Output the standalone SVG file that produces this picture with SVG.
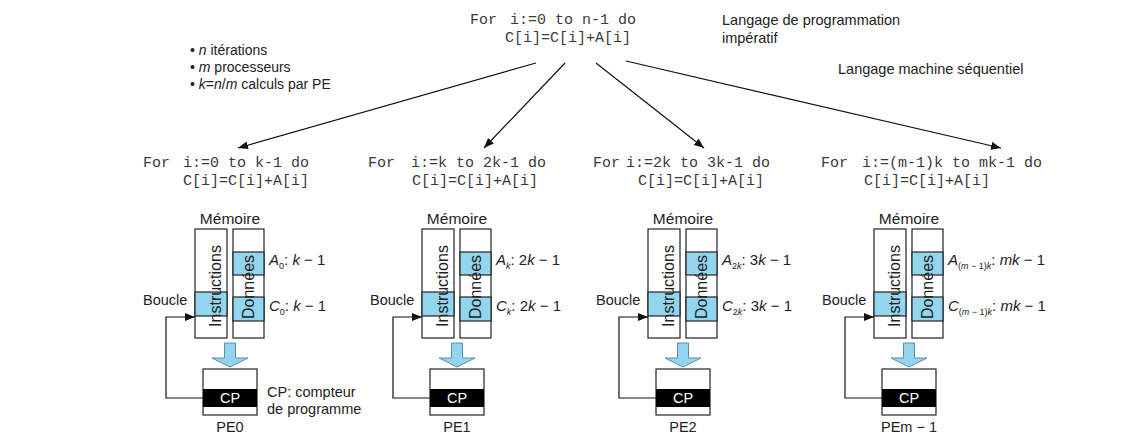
<svg xmlns="http://www.w3.org/2000/svg" width="1138" height="440" viewBox="0 0 1138 440">
<style>
.code{font-family:"Liberation Mono","Courier New",monospace;font-size:15px;fill:#3a3a3a}
.t{font-family:"Liberation Sans",Arial,sans-serif;font-size:14.5px;fill:#222}
.i{font-style:italic}
.box{fill:#fff;stroke:#222;stroke-width:1.2}
.band{fill:#93d4ee;stroke:#222;stroke-width:1.2}
.conn{fill:none;stroke:#111;stroke-width:1.2}
.blk{fill:#93d4ee;stroke:#5b8fa6;stroke-width:1}
.cp{fill:#000}
.cpt{font-family:"Liberation Sans",Arial,sans-serif;font-size:14.5px;fill:#fff;text-anchor:middle}
.mid{text-anchor:middle}
</style>
<defs>
<marker id="ah" viewBox="0 0 10 8" refX="10" refY="4" markerWidth="10" markerHeight="8" markerUnits="userSpaceOnUse" orient="auto">
<path d="M0,0 L10,4 L0,8 Z" fill="#111"/>
</marker>
<g id="col">
<rect class="box" x="195" y="229" width="32" height="109"/>
<rect class="band" x="195" y="292" width="32" height="24"/>
<rect class="box" x="233" y="229" width="31" height="109"/>
<rect class="band" x="233" y="252" width="31" height="23"/>
<rect class="band" x="233" y="297" width="31" height="24"/>
<text class="t mid" transform="translate(221,286) rotate(-90)" x="0" y="0" style="font-size:16px">Instructions</text>
<text class="t mid" transform="translate(254,287) rotate(-90)" x="0" y="0" style="font-size:16px">Données</text>
<text class="t mid" x="230" y="224" style="font-size:15.5px">Mémoire</text>
<text class="t" x="143" y="305">Boucle</text>
<path class="conn" d="M203,398 H166 V317 H195" marker-end="url(#ah)"/>
<path class="blk" d="M224.5,343 H235.5 V358 H248 L230,367 L212,358 H224.5 Z"/>
<rect class="box" x="203" y="369" width="54" height="46"/>
<rect class="cp" x="203" y="389" width="54" height="18"/>
<text class="cpt" x="230" y="403">CP</text>
</g>
</defs>
<g id="header">
<text class="code" y="24"><tspan x="470">For</tspan><tspan x="510">i:=0 to n-1 do</tspan></text>
<text class="code" x="505" y="42">C[i]=C[i]+A[i]</text>
<text class="t" x="722" y="25">Langage de programmation</text>
<text class="t" x="722" y="43">impératif</text>
<text class="t" x="838" y="74">Langage machine séquentiel</text>
<text class="t" x="190" y="55" style="font-size:14px">• <tspan class="i">n</tspan> itérations</text>
<text class="t" x="190" y="72" style="font-size:14px">• <tspan class="i">m</tspan> processeurs</text>
<text class="t" x="190" y="89" style="font-size:14px">• <tspan class="i">k</tspan>=<tspan class="i">n</tspan>/<tspan class="i">m</tspan> calculs par PE</text>
</g>
<g id="connectors">
<line class="conn" x1="536" y1="63" x2="238" y2="148" marker-end="url(#ah)"/>
<line class="conn" x1="565" y1="63" x2="484" y2="148" marker-end="url(#ah)"/>
<line class="conn" x1="596" y1="63" x2="704" y2="148" marker-end="url(#ah)"/>
<line class="conn" x1="626" y1="61" x2="1001" y2="148" marker-end="url(#ah)"/>
</g>
<g id="pe0">
<text class="code" y="167"><tspan x="143">For</tspan><tspan x="183">i:=0 to k-1 do</tspan></text>
<text class="code" x="183" y="185">C[i]=C[i]+A[i]</text>
<use href="#col"/>
<text class="t" x="269" y="265" style="font-size:15px"><tspan class="i">A</tspan><tspan dy="4" style="font-size:9px">0</tspan><tspan dy="-4">: </tspan><tspan class="i">k</tspan> − 1</text>
<text class="t" x="269" y="311" style="font-size:15px"><tspan class="i">C</tspan><tspan dy="4" style="font-size:9px">0</tspan><tspan dy="-4">: </tspan><tspan class="i">k</tspan> − 1</text>
<text class="t" x="267" y="397">CP: compteur</text>
<text class="t" x="267" y="414">de programme</text>
<text class="t mid" x="230" y="432">PE0</text>
</g>
<g id="pe1">
<text class="code" y="167"><tspan x="368">For</tspan><tspan x="411">i:=k to 2k-1 do</tspan></text>
<text class="code" x="412" y="185">C[i]=C[i]+A[i]</text>
<use href="#col" transform="translate(227,0)"/>
<text class="t" x="496" y="265" style="font-size:15px"><tspan class="i">A</tspan><tspan class="i" dy="4" style="font-size:9px">k</tspan><tspan dy="-4">: 2</tspan><tspan class="i">k</tspan> − 1</text>
<text class="t" x="496" y="311" style="font-size:15px"><tspan class="i">C</tspan><tspan class="i" dy="4" style="font-size:9px">k</tspan><tspan dy="-4">: 2</tspan><tspan class="i">k</tspan> − 1</text>
<text class="t mid" x="457" y="432">PE1</text>
</g>
<g id="pe2">
<text class="code" y="167"><tspan x="593">For</tspan><tspan x="626">i:=2k to 3k-1 do</tspan></text>
<text class="code" x="638" y="185">C[i]=C[i]+A[i]</text>
<use href="#col" transform="translate(453,0)"/>
<text class="t" x="722" y="265" style="font-size:15px"><tspan class="i">A</tspan><tspan dy="4" style="font-size:9px">2<tspan class="i">k</tspan></tspan><tspan dy="-4">: 3</tspan><tspan class="i">k</tspan> − 1</text>
<text class="t" x="722" y="311" style="font-size:15px"><tspan class="i">C</tspan><tspan dy="4" style="font-size:9px">2<tspan class="i">k</tspan></tspan><tspan dy="-4">: 3</tspan><tspan class="i">k</tspan> − 1</text>
<text class="t mid" x="683" y="432">PE2</text>
</g>
<g id="pe3">
<text class="code" y="167"><tspan x="821">For</tspan><tspan x="862">i:=(m-1)k to mk-1 do</tspan></text>
<text class="code" x="864" y="185">C[i]=C[i]+A[i]</text>
<use href="#col" transform="translate(679,0)"/>
<text class="t" x="948" y="265" style="font-size:15px"><tspan class="i">A</tspan><tspan dy="4" style="font-size:9px">(<tspan class="i">m</tspan> − 1)<tspan class="i">k</tspan></tspan><tspan dy="-4">: </tspan><tspan class="i">mk</tspan> − 1</text>
<text class="t" x="948" y="311" style="font-size:15px"><tspan class="i">C</tspan><tspan dy="4" style="font-size:9px">(<tspan class="i">m</tspan> − 1)<tspan class="i">k</tspan></tspan><tspan dy="-4">: </tspan><tspan class="i">mk</tspan> − 1</text>
<text class="t mid" x="909" y="432">PEm − 1</text>
</g>
</svg>
